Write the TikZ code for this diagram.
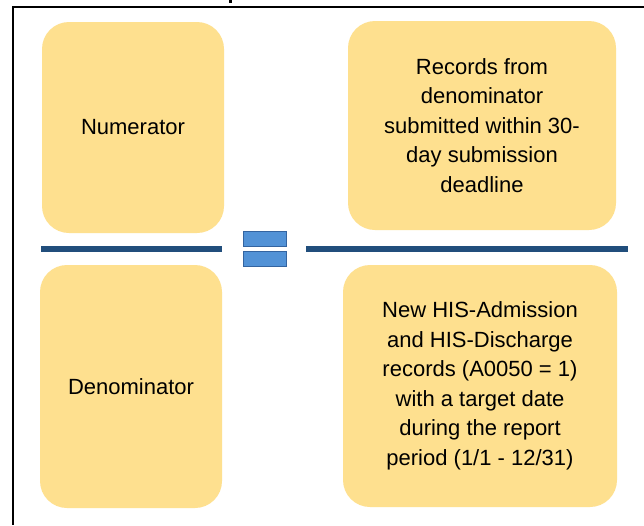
\documentclass[tikz,border=0pt]{standalone}
\usepackage{fontspec}
\setmainfont{Liberation Sans}
\definecolor{boxfill}{RGB}{254,224,143}
\definecolor{barblue}{RGB}{33,78,124}
\definecolor{eqfill}{RGB}{82,146,214}
\definecolor{eqline}{RGB}{52,100,160}
\begin{document}
\begin{tikzpicture}[x=1pt,y=-1pt,
  card/.style={fill=boxfill, rounded corners=27pt, inner sep=0pt, align=center,
    font=\fontsize{22}{29.5}\selectfont, text=black},
  bar/.style={draw=barblue, line width=6pt},
  eqbar/.style={fill=eqfill, draw=eqline, line width=0.8pt},
  frameline/.style={draw=black, line width=1.6pt}]
\useasboundingbox (0,0) rectangle (644,525);
\fill[white] (0,0) rectangle (644,525);
% frame
\coordinate (ftr) at (644,7);
\coordinate (ftl) at (13,7);
\coordinate (fbl) at (13,525);
\draw[frameline] (ftr) -- (ftl) -- (fbl);
\fill[black] (229,0) rectangle (232,3);
% boxes
\node[card, minimum width=182pt, minimum height=211pt] (num) at (133,127.5) {Numerator};
\node[card, minimum width=268pt, minimum height=209pt] (numdef) at (482,125.5)
  {Records from\\denominator\\submitted within 30-\\day submission\\deadline};
\node[card, minimum width=182pt, minimum height=243pt] (den) at (131,386.5) {Denominator};
\node[card, minimum width=274pt, minimum height=242pt] (dendef) at (480,386)
  {New HIS-Admission\\and HIS-Discharge\\records (A0050 = 1)\\with a target date\\during the report\\period (1/1 - 12/31)};
% fraction bars
\coordinate (lbA) at (41,249);
\coordinate (lbB) at (222,249);
\coordinate (rbA) at (306,249);
\coordinate (rbB) at (628,249);
\draw[bar] (lbA) -- (lbB);
\draw[bar] (rbA) -- (rbB);
% equals sign
\draw[eqbar] (243,231) rectangle (286,246);
\draw[eqbar] (243,251) rectangle (286,266);
\end{tikzpicture}
\end{document}
